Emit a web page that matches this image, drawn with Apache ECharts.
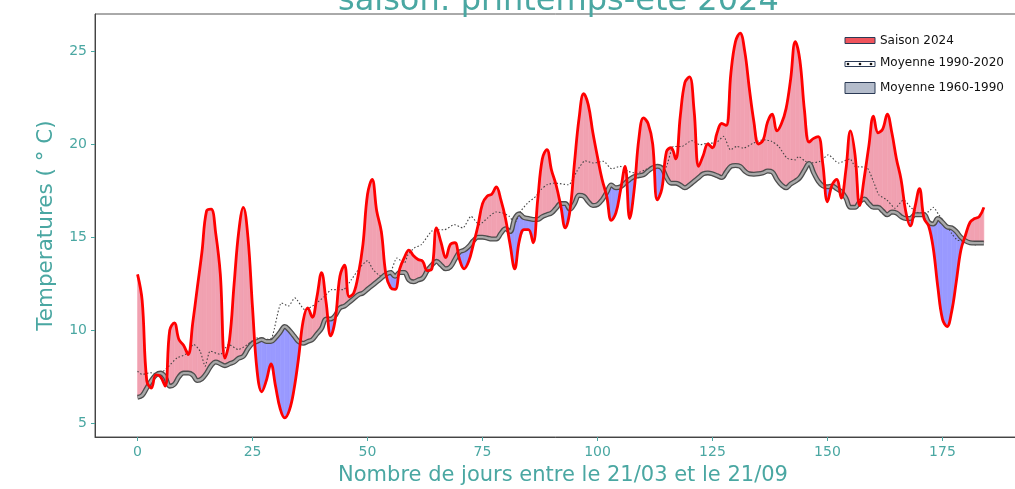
<!DOCTYPE html>
<html lang="fr">
<head>
<meta charset="UTF-8">
<title>Saison printemps-été 2024</title>
<style>
  html, body { margin: 0; padding: 0; background: #fff; }
  #main { width: 1015px; height: 489px; }
</style>
</head>
<body>
<div id="main"></div>
<script src="https://cdn.jsdelivr.net/npm/echarts@6/dist/echarts.min.js"></script>
<script>
// températures journalières, jour 0 = 21/03
var saison2024 = [
  13.0, 11.6, 7.3, 6.9, 7.6, 7.5, 7.0, 10.0, 10.4, 9.5,
  9.2, 8.7, 10.4, 12.3, 14.2, 16.4, 16.5, 15.2, 13.0, 8.5,
  9.5, 12.5, 15.3, 16.6, 15.0, 11.2, 7.8, 6.7, 7.3, 8.2,
  7.0, 5.8, 5.3, 5.7, 6.8, 8.5, 10.5, 11.2, 10.7, 11.8,
  13.1, 11.5, 9.7, 10.6, 12.9, 13.5, 11.8, 12.0, 13.0, 14.6,
  17.3, 18.1, 16.4, 15.3, 13.0, 12.3, 12.2, 13.3, 13.9, 14.3,
  14.0, 13.8, 13.7, 13.2, 13.3, 15.5, 14.7, 13.9, 14.6, 14.7,
  13.8, 13.3, 13.7, 14.6, 15.6, 16.8, 17.2, 17.3, 17.7, 17.0,
  16.0, 14.6, 13.3, 14.8, 15.4, 15.4, 14.7, 17.0, 19.2, 19.7,
  18.6, 17.8, 16.7, 15.5, 16.4, 19.0, 21.4, 22.7, 22.1, 20.6,
  19.3, 18.1, 17.2, 15.9, 16.3, 17.5, 18.8, 16.0, 17.6, 20.3,
  21.4, 21.1, 20.0, 17.0, 17.6, 19.6, 19.8, 19.2, 21.5, 23.3,
  23.6, 21.8, 18.8, 19.4, 20.0, 19.8, 20.6, 21.1, 21.0, 23.8,
  25.5, 25.95, 25.0, 23.0, 21.2, 20.0, 20.2, 21.2, 21.6, 20.7,
  21.1, 21.9, 23.5, 25.5, 24.5, 21.8, 20.1, 20.3, 20.4, 18.9,
  16.9, 17.8, 18.1, 17.1, 18.6, 20.7, 19.4, 16.7, 18.2, 19.9,
  21.5, 20.6, 20.8, 21.6, 20.6, 19.2, 18.1, 16.4, 15.6, 16.6,
  17.6, 16.0, 15.6, 14.4, 12.3, 10.6, 10.2, 11.0, 12.6, 14.3,
  15.1, 15.8, 16.0, 16.1, 16.6
];
var moy6090 = [
  6.4, 6.5, 6.9, 7.3, 7.6, 7.7, 7.5, 7.0, 7.1, 7.5,
  7.7, 7.7, 7.6, 7.3, 7.4, 7.7, 8.1, 8.3, 8.2, 8.1,
  8.2, 8.3, 8.5, 8.6, 9.0, 9.3, 9.4, 9.5, 9.4, 9.4,
  9.6, 9.9, 10.2, 10.0, 9.7, 9.4, 9.3, 9.4, 9.5, 9.8,
  10.1, 10.6, 10.6, 10.8, 11.2, 11.3, 11.5, 11.7, 11.9, 12.0,
  12.2, 12.4, 12.6, 12.8, 13.0, 13.1, 12.9, 13.1, 13.1, 12.7,
  12.6, 12.7, 12.8, 13.2, 13.5, 13.7, 13.5, 13.3, 13.4, 13.8,
  14.2, 14.3, 14.5, 14.8, 15.0, 15.0, 14.95, 14.9, 14.9, 15.2,
  15.45, 15.3, 16.0, 16.25, 16.05, 16.0, 15.95, 15.95, 16.1, 16.2,
  16.3, 16.55, 16.8, 16.8, 16.5, 16.8, 17.25, 17.2, 16.9, 16.7,
  16.75, 17.0, 17.4, 17.8, 17.65, 17.7, 17.9, 18.1, 18.25, 18.3,
  18.35, 18.55, 18.72, 18.8, 18.7, 18.2, 17.9, 17.9, 17.8, 17.65,
  17.8, 18.0, 18.2, 18.4, 18.45, 18.4, 18.3, 18.2, 18.5, 18.8,
  18.85, 18.8, 18.55, 18.4, 18.38, 18.4, 18.45, 18.55, 18.5, 18.1,
  17.8, 17.65, 17.85, 18.0, 18.2, 18.6, 18.95, 18.45, 18.0, 17.75,
  17.7, 17.75, 17.6, 17.45, 17.1, 16.6, 16.6, 16.9, 17.05, 16.8,
  16.6, 16.6, 16.4, 16.2, 16.35, 16.3, 16.1, 16.0, 16.0, 16.2,
  16.2, 16.2, 15.8, 15.7, 16.0, 15.8, 15.55, 15.5, 15.3, 15.0,
  14.8, 14.7, 14.68, 14.68, 14.68
];
// moyenne 1990-2020 : points relevés (jour, valeur)
var joursMoy9020 = [
  0, 1, 2.8, 4.6, 6.4, 8.6, 10.4, 12.2, 13.6, 14.7, 15.8, 18, 19.8, 21.9, 24.8,
  25.6, 27.7, 29.2, 31.3, 32.8, 34.2, 36.4, 38.5, 40.7, 42.2, 44.7, 46.5, 48.3, 50,
  51.2, 53, 54.8, 56.4, 58, 58.8, 60.2, 61.7, 63.9, 65, 66.7, 68.9, 70.7, 72.5,
  74.3, 76.1, 77.9, 79.4, 80.8, 82, 83.3, 84.8, 86.6, 87.7, 89.1, 90.8, 93.7, 95.5,
  97.3, 99.1, 101.3, 103.1, 104.9, 106.7, 108.6, 110.4, 112.5, 114.7, 116.5, 118.3,
  120.5, 122.3, 124.1, 125.6, 127.4, 128.9, 130.3, 131.7, 133.9, 136.1, 137.9,
  139.4, 141.2, 143, 143.7, 145.2, 146.2, 148.4, 150.2, 152.4, 154.9, 156, 158.6,
  160, 161.2, 162.9, 164.7, 166.5, 168.3, 170.1, 172, 173, 174.2, 175.6, 177,
  178.2, 179.9, 182.1, 184
];
var valMoy9020 = [
  7.8, 7.63, 7.72, 7.63, 7.98, 8.52, 8.7, 9.24, 8.88, 8.07, 8.88, 8.7, 9.24, 8.97, 9.4,
  9.6, 9.5, 9.6, 11.47, 11.3, 11.74, 11.1, 11.38, 11.83, 12.18, 12.18, 12.72, 13.35, 13.74,
  13.26, 12.9, 12.99, 13.88, 13.61, 14.06, 14.42, 14.6, 15.31, 15.4, 15.4, 15.67, 15.49, 16.12,
  15.67, 16.03, 16.35, 16.3, 16.12, 15.76, 16.39, 16.83, 17.19, 17.55, 17.82, 17.9, 17.81, 18.53,
  19.1, 18.98, 19.07, 18.67, 18.8, 18.53, 18.44, 18.62, 18.8, 18.71, 19.87, 19.87,
  20.18, 19.96, 20.05, 20.05, 20.41, 19.69, 19.87, 19.78, 20.05, 20.23, 20.14,
  19.87, 19.24, 19.15, 19.33, 19.07, 18.98, 19.07, 19.42, 18.98, 19.2, 18.8, 18.73,
  17.98, 17.26, 17.0, 16.55, 17.0, 16.55, 16.28, 16.37, 16.6, 16.2, 15.75, 15.2,
  14.85, 14.77, 14.58, 14.77
];
var ticksX = [0, 25, 50, 75, 100, 125, 150, 175];
var ticksY = [5, 10, 15, 20, 25];

var teal = '#4aa7a2';
var rose = '#f1a1b1';
var bleu = '#9999ff';
var police = 'DejaVu Sans';

var myChart = echarts.init(document.getElementById('main'));

function pairs(xs, ys) {
  var out = [];
  for (var i = 0; i < ys.length; i++) out.push([xs ? xs[i] : i, ys[i]]);
  return out;
}

// remplissage entre 2024 et 1960-1990 (rose au-dessus, bleu en dessous)
function renderFill(params, api) {
  var i = params.dataIndex;
  if (i >= saison2024.length - 1) return;
  var r0 = saison2024[i], r1 = saison2024[i + 1];
  var g0 = moy6090[i], g1 = moy6090[i + 1];
  var d0 = r0 - g0, d1 = r1 - g1;
  function pt(x, y) { return api.coord([x, y]); }
  function poly(pts, dessus) {
    var c = dessus ? rose : bleu;
    return { type: 'polygon', shape: { points: pts }, style: { fill: c, stroke: c, lineWidth: 0.6 } };
  }
  var parts = [];
  if (d0 * d1 >= 0) {
    parts.push(poly([pt(i, r0), pt(i + 1, r1), pt(i + 1, g1), pt(i, g0)], d0 + d1 >= 0));
  } else {
    var t = d0 / (d0 - d1);
    var xc = i + t, yc = r0 + t * (r1 - r0);
    parts.push(poly([pt(i, r0), pt(xc, yc), pt(i, g0)], d0 > 0));
    parts.push(poly([pt(xc, yc), pt(i + 1, r1), pt(i + 1, g1)], d1 > 0));
  }
  return { type: 'group', children: parts };
}

var legendeTexte = { fontFamily: police, fontSize: 12, fill: '#111', verticalAlign: 'middle' };

var option = {
  animation: false,
  backgroundColor: '#fff',
  textStyle: { fontFamily: police },
  title: {
    text: 'saison: printemps-été 2024',
    left: 333,
    top: -19,
    textStyle: { color: teal, fontSize: 32, fontWeight: 'normal', fontFamily: police }
  },
  grid: {
    left: 95, right: -16, top: 14, bottom: 52,
    outerBoundsMode: 'none',
    show: true, borderColor: '#555', borderWidth: 1
  },
  xAxis: {
    type: 'value',
    min: -9.25,
    max: 194.25,
    name: 'Nombre de jours entre le 21/03 et le 21/09',
    nameLocation: 'middle',
    nameGap: 28,
    nameTextStyle: { color: teal, fontSize: 21, fontFamily: police },
    axisLine: { show: true, onZero: false, lineStyle: { color: '#444' } },
    axisTick: { show: true, customValues: ticksX, length: 4, lineStyle: { color: teal } },
    axisLabel: { customValues: ticksX, color: teal, fontSize: 14, margin: 8 },
    splitLine: { show: false }
  },
  yAxis: {
    type: 'value',
    min: 4.27,
    max: 26.98,
    name: 'Temperatures ( ° C)',
    nameLocation: 'middle',
    nameRotate: 90,
    nameGap: 38,
    nameTextStyle: { color: teal, fontSize: 21.5, fontFamily: police },
    axisLine: { show: true, onZero: false, lineStyle: { color: '#444' } },
    axisTick: { show: true, customValues: ticksY, length: 4, lineStyle: { color: teal } },
    axisLabel: { customValues: ticksY, color: teal, fontSize: 14, margin: 8 },
    splitLine: { show: false }
  },
  graphic: [
    { type: 'rect', shape: { x: 845, y: 37.5, width: 30, height: 6 }, style: { fill: '#f0545c', stroke: '#2b3a55', lineWidth: 1 } },
    { type: 'text', x: 880, y: 40.5, style: Object.assign({ text: 'Saison 2024' }, legendeTexte) },
    { type: 'rect', shape: { x: 845, y: 61.5, width: 30, height: 5 }, style: { fill: '#fff', stroke: '#2b3a55', lineWidth: 1 } },
    { type: 'circle', shape: { cx: 848, cy: 64, r: 1.3 }, style: { fill: '#111' } },
    { type: 'circle', shape: { cx: 860, cy: 64, r: 1.3 }, style: { fill: '#111' } },
    { type: 'circle', shape: { cx: 871, cy: 64, r: 1.3 }, style: { fill: '#111' } },
    { type: 'text', x: 880, y: 63, style: Object.assign({ text: 'Moyenne 1990-2020' }, legendeTexte) },
    { type: 'rect', shape: { x: 845, y: 82.5, width: 30, height: 11 }, style: { fill: '#b4bccb', stroke: '#2b3a55', lineWidth: 1 } },
    { type: 'text', x: 880, y: 88, style: Object.assign({ text: 'Moyenne 1960-1990' }, legendeTexte) }
  ],
  series: [
    {
      type: 'custom',
      renderItem: renderFill,
      data: pairs(null, saison2024).map(function (p, i) { return [p[0], p[1], moy6090[i]]; }),
      encode: { x: 0, y: [1, 2] },
      silent: true,
      z: 1
    },
    {
      name: 'Moyenne 1990-2020',
      type: 'line',
      data: pairs(joursMoy9020, valMoy9020),
      symbol: 'none',
      smooth: 0.2,
      lineStyle: { color: '#444', width: 1.1, type: [1.5, 2] },
      z: 2
    },
    {
      name: 'Moyenne 1960-1990 bord',
      type: 'line',
      data: pairs(null, moy6090),
      symbol: 'none',
      smooth: 0.4,
      lineStyle: { color: '#4d4d4d', width: 5 },
      z: 3
    },
    {
      name: 'Moyenne 1960-1990',
      type: 'line',
      data: pairs(null, moy6090),
      symbol: 'none',
      smooth: 0.4,
      lineStyle: { color: '#a8a8a8', width: 2.4 },
      z: 4
    },
    {
      name: 'Saison 2024',
      type: 'line',
      data: pairs(null, saison2024),
      symbol: 'none',
      smooth: 0.4,
      lineStyle: { color: '#ff0000', width: 2.8 },
      z: 5
    }
  ]
};

myChart.setOption(option);
</script>
</body>
</html>
